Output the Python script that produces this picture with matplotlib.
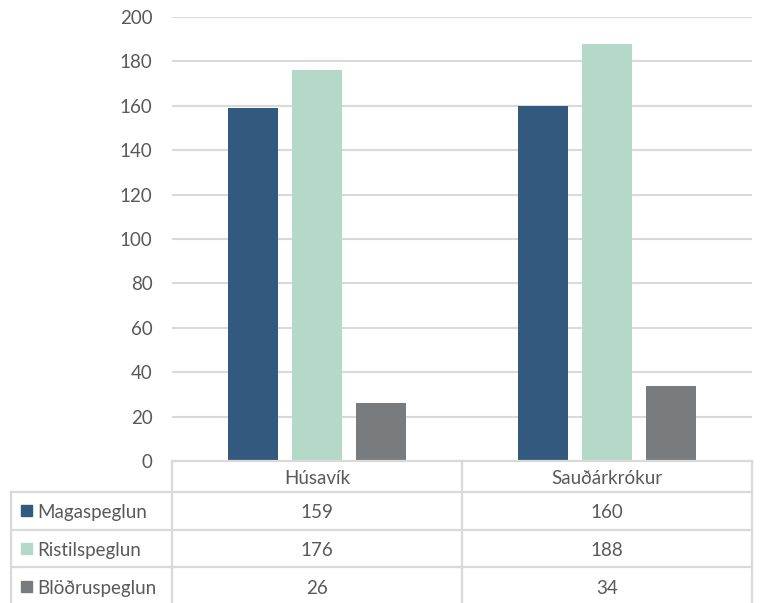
import numpy as np
import matplotlib
matplotlib.use('Agg')
import matplotlib.pyplot as plt

plt.rcParams['font.family'] = ['Lato', 'DejaVu Sans']

categories = ['Húsavík', 'Sauðárkrókur']
series = ['Magaspeglun', 'Ristilspeglun', 'Blöðruspeglun']
magaspeglun = [159, 160]
ristilspeglun = [176, 188]
bloduspeglun = [26, 34]
values = [magaspeglun, ristilspeglun, bloduspeglun]
colors = ['#335A7E', '#B4D9C8', '#797C7E']
yticks = [0, 20, 40, 60, 80, 100, 120, 140, 160, 180, 200]

text_color = '#595959'
grid_color = '#D9D9D9'
fs = 13.5
W, H = 760, 603

fig = plt.figure(figsize=(7.6, 6.03), dpi=100)

# plot area in pixel coords
px_left, px_right, px_top, px_bottom = 172, 752, 17, 461
ax = fig.add_axes([px_left / W, 1 - px_bottom / H,
                   (px_right - px_left) / W, (px_bottom - px_top) / H])

x = np.arange(len(categories))
bw = 50 / 290
step = 64 / 290
for i, (vals, c) in enumerate(zip(values, colors)):
    ax.bar(x + (i - 1) * step, vals, width=bw, color=c, zorder=3)

ax.set_xlim(-0.5, len(categories) - 0.5)
ax.set_ylim(0, 200)
ax.set_yticks(yticks)
ax.set_yticklabels([str(t) for t in yticks], fontsize=fs, color=text_color)
ax.tick_params(axis='y', length=0, pad=14)
ax.set_xticks([])
ax.grid(axis='y', color=grid_color, linewidth=1.5, zorder=0)
for s in ax.spines.values():
    s.set_visible(False)

# data table drawn in pixel space
tab = fig.add_axes([0, 0, 1, 1])
tab.set_xlim(0, W)
tab.set_ylim(H, 0)
tab.axis('off')
lw = 1.6
col_x = [px_left, 462, px_right]
row_y = [461, 492, 530, 567, H + 5]
row_mid = [477, 511, 549, 587]
left_x = 11

tab.plot([px_left, px_right], [row_y[0], row_y[0]], color=grid_color, lw=lw)
for cx in col_x:
    tab.plot([cx, cx], [row_y[0], row_y[-1]], color=grid_color, lw=lw)
tab.plot([left_x, left_x], [row_y[1], row_y[-1]], color=grid_color, lw=lw)
for ry in row_y[1:4]:
    tab.plot([left_x, px_right], [ry, ry], color=grid_color, lw=lw)

for j, cat in enumerate(categories):
    cx = (col_x[j] + col_x[j + 1]) / 2
    tab.text(cx, row_mid[0], cat, ha='center', va='center_baseline',
             fontsize=fs, color=text_color)

for i, (name, vals, c) in enumerate(zip(series, values, colors)):
    yc = row_mid[i + 1]
    tab.add_patch(plt.Rectangle((21, yc - 6), 11, 11, color=c))
    tab.text(37, yc, name, ha='left', va='center_baseline', fontsize=fs,
             color=text_color)
    for j, v in enumerate(vals):
        cx = (col_x[j] + col_x[j + 1]) / 2
        tab.text(cx, yc, str(v), ha='center', va='center_baseline',
                 fontsize=fs, color=text_color)

fig.savefig('out.png', dpi=100)
